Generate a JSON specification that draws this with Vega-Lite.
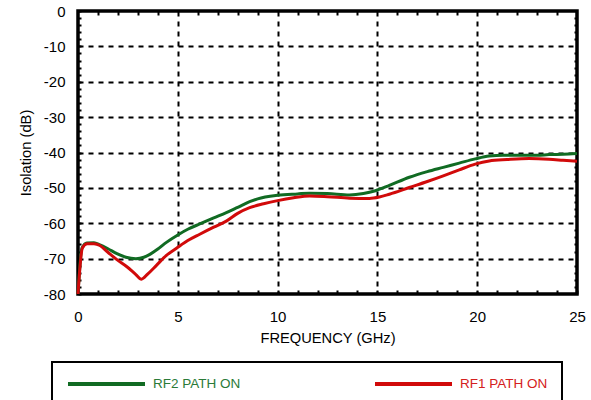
{
  "$schema": "https://vega.github.io/schema/vega-lite/v6.json",
  "width": 499,
  "height": 283,
  "autosize": {"type": "none"},
  "padding": {"left": 78, "top": 11, "right": 14, "bottom": 106},
  "config": {
    "view": {"stroke": "black", "strokeWidth": 3.5},
    "font": "Liberation Sans",
    "axis": {"labelFont": "Liberation Sans", "titleFont": "Liberation Sans", "labelColor": "black", "titleColor": "black", "titleFontWeight": "normal", "domain": false, "gridColor": "black", "gridDash": [5, 5], "gridWidth": 2, "gridOpacity": 1, "tickColor": "black", "tickWidth": 2}
  },
  "data": {"values": [
    {"f": 0, "iso": -80, "path": "RF2 PATH ON"},
    {"f": 0.2, "iso": -67, "path": "RF2 PATH ON"},
    {"f": 0.45, "iso": -65.6, "path": "RF2 PATH ON"},
    {"f": 0.8, "iso": -65.5, "path": "RF2 PATH ON"},
    {"f": 1.1, "iso": -66.1, "path": "RF2 PATH ON"},
    {"f": 1.5, "iso": -67.2, "path": "RF2 PATH ON"},
    {"f": 1.95, "iso": -68.6, "path": "RF2 PATH ON"},
    {"f": 2.4, "iso": -69.6, "path": "RF2 PATH ON"},
    {"f": 2.9, "iso": -70, "path": "RF2 PATH ON"},
    {"f": 3.3, "iso": -69.6, "path": "RF2 PATH ON"},
    {"f": 3.6, "iso": -68.8, "path": "RF2 PATH ON"},
    {"f": 4.0, "iso": -67.3, "path": "RF2 PATH ON"},
    {"f": 4.43, "iso": -65.4, "path": "RF2 PATH ON"},
    {"f": 5, "iso": -63.3, "path": "RF2 PATH ON"},
    {"f": 5.5, "iso": -61.7, "path": "RF2 PATH ON"},
    {"f": 6.1, "iso": -60.2, "path": "RF2 PATH ON"},
    {"f": 6.8, "iso": -58.5, "path": "RF2 PATH ON"},
    {"f": 7.43, "iso": -57.0, "path": "RF2 PATH ON"},
    {"f": 8, "iso": -55.5, "path": "RF2 PATH ON"},
    {"f": 8.6, "iso": -53.9, "path": "RF2 PATH ON"},
    {"f": 9, "iso": -53.1, "path": "RF2 PATH ON"},
    {"f": 10, "iso": -52.1, "path": "RF2 PATH ON"},
    {"f": 11, "iso": -51.7, "path": "RF2 PATH ON"},
    {"f": 11.6, "iso": -51.5, "path": "RF2 PATH ON"},
    {"f": 12.5, "iso": -51.6, "path": "RF2 PATH ON"},
    {"f": 13.6, "iso": -52.0, "path": "RF2 PATH ON"},
    {"f": 14.3, "iso": -51.6, "path": "RF2 PATH ON"},
    {"f": 14.9, "iso": -50.8, "path": "RF2 PATH ON"},
    {"f": 15.6, "iso": -49.3, "path": "RF2 PATH ON"},
    {"f": 16.6, "iso": -47.0, "path": "RF2 PATH ON"},
    {"f": 17.5, "iso": -45.4, "path": "RF2 PATH ON"},
    {"f": 18.3, "iso": -44.2, "path": "RF2 PATH ON"},
    {"f": 19.1, "iso": -43.0, "path": "RF2 PATH ON"},
    {"f": 19.9, "iso": -41.8, "path": "RF2 PATH ON"},
    {"f": 20.6, "iso": -41.0, "path": "RF2 PATH ON"},
    {"f": 21.3, "iso": -40.8, "path": "RF2 PATH ON"},
    {"f": 22, "iso": -40.8, "path": "RF2 PATH ON"},
    {"f": 23, "iso": -40.8, "path": "RF2 PATH ON"},
    {"f": 23.6, "iso": -40.6, "path": "RF2 PATH ON"},
    {"f": 24.3, "iso": -40.5, "path": "RF2 PATH ON"},
    {"f": 25, "iso": -40.3, "path": "RF2 PATH ON"},
    {"f": 0, "iso": -80, "path": "RF1 PATH ON"},
    {"f": 0.22, "iso": -67, "path": "RF1 PATH ON"},
    {"f": 0.46, "iso": -65.8, "path": "RF1 PATH ON"},
    {"f": 0.8, "iso": -65.8, "path": "RF1 PATH ON"},
    {"f": 1.1, "iso": -66.3, "path": "RF1 PATH ON"},
    {"f": 1.5, "iso": -68.2, "path": "RF1 PATH ON"},
    {"f": 1.95, "iso": -70.3, "path": "RF1 PATH ON"},
    {"f": 2.45, "iso": -72.3, "path": "RF1 PATH ON"},
    {"f": 2.9, "iso": -74.5, "path": "RF1 PATH ON"},
    {"f": 3.18, "iso": -75.8, "path": "RF1 PATH ON"},
    {"f": 3.5, "iso": -74.3, "path": "RF1 PATH ON"},
    {"f": 3.93, "iso": -71.9, "path": "RF1 PATH ON"},
    {"f": 4.43, "iso": -69.1, "path": "RF1 PATH ON"},
    {"f": 5, "iso": -66.8, "path": "RF1 PATH ON"},
    {"f": 5.5, "iso": -64.9, "path": "RF1 PATH ON"},
    {"f": 6.1, "iso": -63.1, "path": "RF1 PATH ON"},
    {"f": 6.8, "iso": -61.1, "path": "RF1 PATH ON"},
    {"f": 7.43, "iso": -59.4, "path": "RF1 PATH ON"},
    {"f": 8, "iso": -57.2, "path": "RF1 PATH ON"},
    {"f": 8.6, "iso": -55.6, "path": "RF1 PATH ON"},
    {"f": 9.3, "iso": -54.5, "path": "RF1 PATH ON"},
    {"f": 10, "iso": -53.6, "path": "RF1 PATH ON"},
    {"f": 10.8, "iso": -52.8, "path": "RF1 PATH ON"},
    {"f": 11.6, "iso": -52.3, "path": "RF1 PATH ON"},
    {"f": 12.5, "iso": -52.5, "path": "RF1 PATH ON"},
    {"f": 13.6, "iso": -52.9, "path": "RF1 PATH ON"},
    {"f": 14.6, "iso": -53.0, "path": "RF1 PATH ON"},
    {"f": 15.1, "iso": -52.6, "path": "RF1 PATH ON"},
    {"f": 15.6, "iso": -51.8, "path": "RF1 PATH ON"},
    {"f": 16.6, "iso": -49.9, "path": "RF1 PATH ON"},
    {"f": 17.5, "iso": -48.2, "path": "RF1 PATH ON"},
    {"f": 18.3, "iso": -46.6, "path": "RF1 PATH ON"},
    {"f": 19.1, "iso": -44.9, "path": "RF1 PATH ON"},
    {"f": 19.9, "iso": -43.3, "path": "RF1 PATH ON"},
    {"f": 20.6, "iso": -42.4, "path": "RF1 PATH ON"},
    {"f": 21.5, "iso": -42.0, "path": "RF1 PATH ON"},
    {"f": 22.6, "iso": -41.7, "path": "RF1 PATH ON"},
    {"f": 23.6, "iso": -41.9, "path": "RF1 PATH ON"},
    {"f": 24.3, "iso": -42.2, "path": "RF1 PATH ON"},
    {"f": 25, "iso": -42.5, "path": "RF1 PATH ON"}
  ]},
  "layer": [
    {
      "mark": {"type": "line", "strokeWidth": 3, "interpolate": "monotone"},
      "encoding": {
        "x": {"field": "f", "type": "quantitative", "scale": {"domain": [0, 25], "nice": false},
          "title": "FREQUENCY (GHz)",
          "axis": {"orient": "bottom", "values": [0,1,2,3,4,5,6,7,8,9,10,11,12,13,14,15,16,17,18,19,20,21,22,23,24,25],
            "labelExpr": "datum.value % 5 === 0 ? toString(datum.value) : ''",
            "gridOpacity": {"condition": {"test": "datum.value % 5 === 0 && datum.value > 0 && datum.value < 25", "value": 1}, "value": 0},
            "offset": -4, "tickSize": 4,
            "labelFontSize": 15, "labelPadding": 15, "titleFontSize": 14.7, "titlePadding": 6, "labelFlush": false, "labelOverlap": false}},
        "y": {"field": "iso", "type": "quantitative", "scale": {"domain": [-80, 0], "nice": false},
          "title": "Isolation (dB)",
          "axis": {"orient": "left", "values": [0,-2,-4,-6,-8,-10,-12,-14,-16,-18,-20,-22,-24,-26,-28,-30,-32,-34,-36,-38,-40,-42,-44,-46,-48,-50,-52,-54,-56,-58,-60,-62,-64,-66,-68,-70,-72,-74,-76,-78,-80],
            "labelExpr": "datum.value % 10 === 0 ? toString(datum.value) : ''",
            "offset": -3, "tickSize": 3, "labelFontSize": 15, "labelPadding": 13, "titleFontSize": 14.7, "titlePadding": 10, "labelOverlap": false, "labelFlush": false,
            "gridOpacity": {"condition": {"test": "datum.value % 10 === 0 && datum.value > -80 && datum.value < 0", "value": 1}, "value": 0}}},
        "color": {"field": "path", "type": "nominal", "sort": ["RF2 PATH ON", "RF1 PATH ON"],
          "scale": {"domain": ["RF2 PATH ON", "RF1 PATH ON"], "range": ["#116b23", "#d10a0a"]},
          "legend": {"orient": "none", "legendX": -26, "legendY": 351, "direction": "horizontal", "columns": 2, "columnPadding": 132,
            "title": null, "strokeColor": "black", "padding": 14, "symbolType": "stroke", "symbolSize": 5929, "symbolStrokeWidth": 4,
            "clipHeight": 16, "labelFontSize": 13.5, "labelOffset": 6, "labelFont": "Liberation Sans",
            "encode": {"labels": {"update": {"fill": {"signal": "datum.label === 'RF2 PATH ON' ? '#2a7a38' : '#d42020'"}}}, "legend": {"update": {"strokeWidth": {"value": 2}}}}}}
      }
    },
    {
      "mark": {"type": "line", "strokeOpacity": 0},
      "encoding": {
        "x": {"field": "f", "type": "quantitative", "scale": {"domain": [0, 25], "nice": false}, "title": null,
          "axis": {"orient": "top", "values": [1,2,3,4,6,7,8,9,11,12,13,14,16,17,18,19,21,22,23,24], "labels": false, "grid": false, "offset": -4, "tickSize": 4}},
        "y": {"field": "iso", "type": "quantitative", "scale": {"domain": [-80, 0], "nice": false}, "title": null,
          "axis": {"orient": "right", "values": [-2,-4,-6,-8,-12,-14,-16,-18,-22,-24,-26,-28,-32,-34,-36,-38,-42,-44,-46,-48,-52,-54,-56,-58,-62,-64,-66,-68,-72,-74,-76,-78], "labels": false, "grid": false, "offset": -3, "tickSize": 3}},
        "detail": {"field": "path"}
      }
    }
  ],
  "resolve": {"axis": {"x": "independent", "y": "independent"}}
}
